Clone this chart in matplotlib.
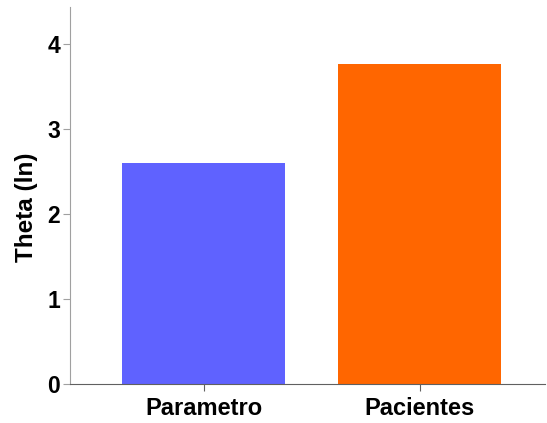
import matplotlib
matplotlib.use("Agg")
import matplotlib.pyplot as plt

categories = ["Parametro", "Pacientes"]
theta_ln = [2.60, 3.76]
bar_colors = ["#5f62ff", "#ff6600"]

plt.rcParams["font.family"] = ["Liberation Sans", "DejaVu Sans"]

fig = plt.figure(figsize=(5.47, 4.23), dpi=100)
ax = fig.add_axes([0.128, 0.092, 0.868, 0.892])

x = range(len(categories))
ax.bar(x, theta_ln, width=0.753, color=bar_colors)

ax.set_xlim(-0.617, 1.577)
ax.set_ylim(0, 4.435)
ax.set_yticks([0, 1, 2, 3, 4])
ax.set_xticks(list(x))
ax.set_xticklabels(categories, fontsize=17, fontweight="bold")
for lbl in ax.get_yticklabels():
    lbl.set_fontsize(16.5)
    lbl.set_fontweight("bold")
ax.set_ylabel("Theta (ln)", fontsize=17.5, fontweight="bold")
ax.yaxis.set_label_coords(-0.068, 0.468)

for side in ["top", "right"]:
    ax.spines[side].set_visible(False)
ax.spines["left"].set_color("#a0a0a0")
ax.spines["bottom"].set_color("#606060")
ax.tick_params(axis="y", length=5, color="#a0a0a0", pad=2)
ax.tick_params(axis="x", length=5, color="#606060", pad=4)

fig.savefig("out.png", dpi=100)
